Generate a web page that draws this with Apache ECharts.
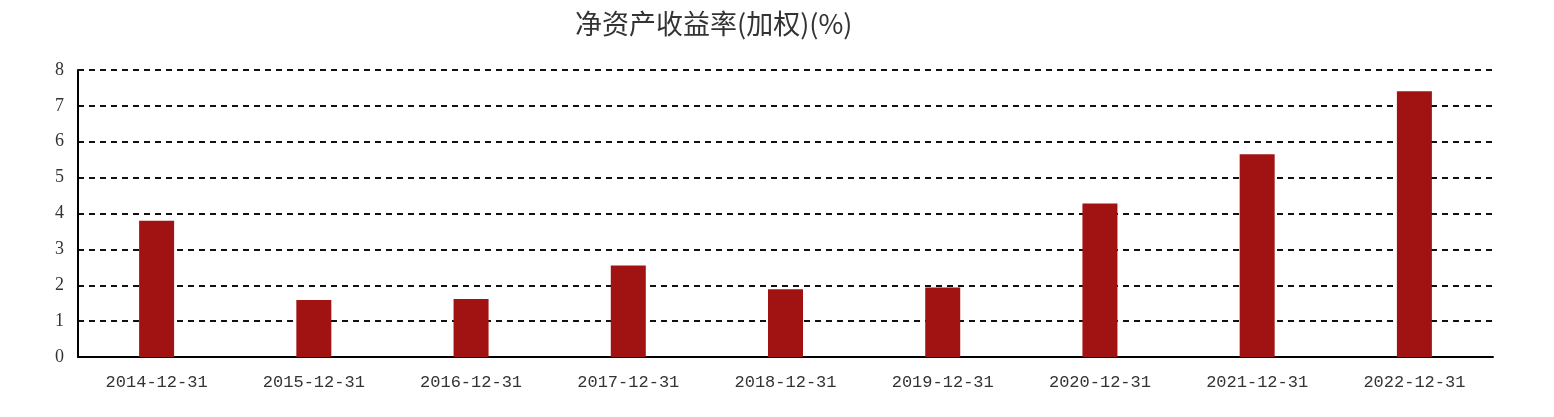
<!DOCTYPE html>
<html><head><meta charset="utf-8">
<script src="https://cdn.jsdelivr.net/npm/echarts@6/dist/echarts.min.js"></script>
<style>html,body{margin:0;padding:0;background:#fff}#c{width:1554px;height:417px}</style>
</head><body><div id="c"></div>
<script>
const categories = ['2014-12-31','2015-12-31','2016-12-31','2017-12-31','2018-12-31','2019-12-31','2020-12-31','2021-12-31','2022-12-31'];
const roeValues = [3.80, 1.59, 1.62, 2.55, 1.89, 1.94, 4.28, 5.65, 7.41];
const titleText = '净资产收益率(加权)(%)';

const chart = echarts.init(document.getElementById('c'));
chart.setOption({
  animation: false,
  backgroundColor: '#fff',
  title: {
    text: titleText,
    left: 570, top: 5,
    textStyle: { fontFamily: '"Noto Sans CJK SC", serif', fontSize: 27, fontWeight: 'normal', color: '#333' }
  },
  grid: { left: 78, right: 61, top: 70, bottom: 60 },
  xAxis: {
    type: 'category', data: categories,
    axisLine: { lineStyle: { color: '#000', width: 2 } },
    axisTick: { show: false },
    axisLabel: { color: '#333', fontFamily: '"Liberation Mono", "DejaVu Sans Mono", monospace', fontSize: 17, margin: 17 }
  },
  yAxis: {
    type: 'value', min: 0, max: 8, interval: 1,
    axisLine: { show: true, lineStyle: { color: '#000', width: 2 } },
    axisTick: { show: false },
    axisLabel: { color: '#333', fontFamily: '"Liberation Serif", "DejaVu Serif", serif', fontSize: 18, margin: 14 },
    splitLine: { lineStyle: { color: '#111', type: [6, 5], width: 2 } }
  },
  series: [{
    type: 'bar', data: roeValues, barWidth: 35,
    itemStyle: { color: '#a11212' }
  }]
});
</script></body></html>
